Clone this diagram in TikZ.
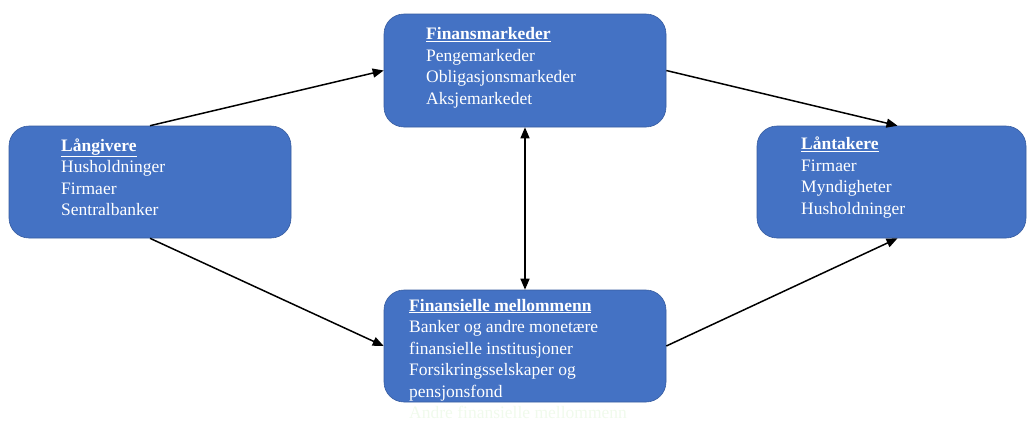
\documentclass[tikz,border=0pt]{standalone}
\usepackage{fontspec}
\setmainfont{Liberation Serif}
\usetikzlibrary{arrows.meta,calc}
\definecolor{boxfill}{RGB}{68,114,196}
\definecolor{boxline}{RGB}{55,92,160}
\definecolor{paletext}{RGB}{240,250,236}
\tikzset{
  panel/.style={draw=boxline, line width=0.6pt, fill=boxfill, rounded corners=20pt,
    inner sep=0pt},
  paneltext/.style={anchor=base west, inner sep=0pt, text=white,
    font=\fontsize{17.5}{21.5}\selectfont},
  flow/.style={line width=1.5pt, -{Triangle[length=11pt,width=9pt]}},
  twoway/.style={line width=1.5pt, {Triangle[length=11pt,width=9pt]}-{Triangle[length=11pt,width=9pt]}}
}
\newcommand{\heading}[1]{\textbf{\underline{#1}}}
\begin{document}
\begin{tikzpicture}[x=1pt,y=-1pt]
\useasboundingbox (0,0) rectangle (1027,421);

% the four boxes
\node[panel, minimum width=282pt, minimum height=113pt] (fm) at (525,70.5) {};
\node[panel, minimum width=282pt, minimum height=112pt] (lg) at (150,182) {};
\node[panel, minimum width=269pt, minimum height=112pt] (lt) at (891.5,182) {};
\node[panel, minimum width=282pt, minimum height=112pt] (fi) at (525,346) {};

% box contents
\node[paneltext] (fmtext) at (426,39.5) {\begin{tabular}[t]{@{}l@{}}
  \heading{Finansmarkeder}\\ Pengemarkeder\\ Obligasjonsmarkeder\\ Aksjemarkedet
  \end{tabular}};
\node[paneltext] (lgtext) at (61,151) {\begin{tabular}[t]{@{}l@{}}
  \heading{Långivere}\\ Husholdninger\\ Firmaer\\ Sentralbanker
  \end{tabular}};
\node[paneltext] (lttext) at (801,149.5) {\begin{tabular}[t]{@{}l@{}}
  \heading{Låntakere}\\ Firmaer\\ Myndigheter\\ Husholdninger
  \end{tabular}};
\node[paneltext] (fitext) at (409,311) {\begin{tabular}[t]{@{}l@{}}
  \heading{Finansielle mellommenn}\\ Banker og andre monetære\\ finansielle institusjoner\\
  Forsikringsselskaper og\\ pensjonsfond\\ \textcolor{paletext}{Andre finansielle mellommenn}
  \end{tabular}};

% flows of funds
\draw[flow] (lg.north) -- (fm.west);
\draw[flow] (lg.south) -- (fi.west);
\draw[flow] (fm.east) -- ($(lt.north)+(6,0)$);
\draw[flow] (fi.east) -- ($(lt.south)+(6,0)$);
\draw[twoway] (fm.south) -- (fi.north);
\end{tikzpicture}
\end{document}
